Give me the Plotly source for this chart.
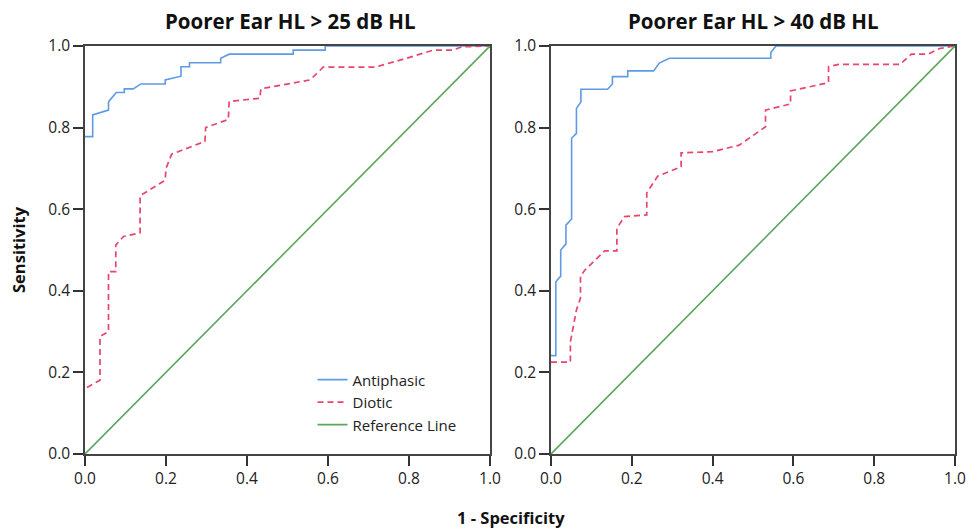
import plotly.graph_objects as go

# ---- data ----
left_anti_fpr = [0, 0.019, 0.019, 0.058, 0.058, 0.077, 0.097, 0.097, 0.119, 0.138, 0.198, 0.198,
                 0.237, 0.237, 0.258, 0.258, 0.335, 0.335, 0.356, 0.514, 0.514, 0.593, 0.593, 1.0]
left_anti_tpr = [0.778, 0.778, 0.831, 0.843, 0.863, 0.886, 0.886, 0.895, 0.895, 0.907, 0.907, 0.917,
                 0.926, 0.949, 0.949, 0.959, 0.959, 0.970, 0.980, 0.980, 0.990, 0.990, 1.0, 1.0]

left_dio_fpr = [0.005, 0.037, 0.037, 0.058, 0.058, 0.076, 0.076, 0.095, 0.136, 0.136, 0.198, 0.200,
                0.214, 0.296, 0.298, 0.354, 0.356, 0.432, 0.434, 0.556, 0.588, 0.716, 0.794, 0.860,
                0.909, 0.930, 1.0]
left_dio_tpr = [0.163, 0.181, 0.288, 0.300, 0.447, 0.447, 0.512, 0.533, 0.542, 0.633, 0.671, 0.700,
                0.735, 0.766, 0.800, 0.820, 0.864, 0.872, 0.895, 0.917, 0.948, 0.948, 0.970, 0.990,
                0.990, 0.998, 1.0]

right_anti_fpr = [0, 0.012, 0.012, 0.024, 0.024, 0.037, 0.037, 0.051, 0.051, 0.063, 0.063, 0.074,
                  0.074, 0.140, 0.152, 0.152, 0.190, 0.190, 0.254, 0.268, 0.293, 0.544, 0.544, 0.557, 1.0]
right_anti_tpr = [0.241, 0.241, 0.422, 0.436, 0.500, 0.515, 0.561, 0.576, 0.774, 0.786, 0.847, 0.863,
                  0.894, 0.894, 0.907, 0.925, 0.925, 0.939, 0.939, 0.958, 0.970, 0.970, 0.984, 1.0, 1.0]

right_dio_fpr = [0, 0.048, 0.048, 0.063, 0.073, 0.073, 0.084, 0.133, 0.163, 0.163, 0.182, 0.237,
                 0.237, 0.264, 0.322, 0.322, 0.400, 0.466, 0.531, 0.531, 0.593, 0.593, 0.687, 0.687,
                 0.712, 0.864, 0.892, 0.933, 0.962, 1.0]
right_dio_tpr = [0.225, 0.225, 0.275, 0.353, 0.382, 0.436, 0.451, 0.498, 0.498, 0.553, 0.582, 0.586,
                 0.640, 0.681, 0.704, 0.738, 0.741, 0.757, 0.802, 0.843, 0.858, 0.890, 0.910, 0.949,
                 0.955, 0.955, 0.980, 0.980, 0.994, 1.0]

ref_x = [0, 1]
ref_y = [0, 1]

titles = ["Poorer Ear HL > 25 dB HL", "Poorer Ear HL > 40 dB HL"]
tick_vals = [0.0, 0.2, 0.4, 0.6, 0.8, 1.0]
tick_text = ["0.0", "0.2", "0.4", "0.6", "0.8", "1.0"]

BLUE = "#5f9be3"
PINK = "#e8456b"
GREEN = "#5ea55e"
FONT = "Open Sans"

fig = go.Figure()

panels = [
    ("x", "y", left_anti_fpr, left_anti_tpr, left_dio_fpr, left_dio_tpr, True),
    ("x2", "y2", right_anti_fpr, right_anti_tpr, right_dio_fpr, right_dio_tpr, False),
]
for xa, ya, ax, ay, dx, dy, show in panels:
    fig.add_trace(go.Scatter(x=ax, y=ay, mode="lines", name="Antiphasic", xaxis=xa, yaxis=ya,
                             line=dict(color=BLUE, width=1.6), showlegend=show))
    fig.add_trace(go.Scatter(x=dx, y=dy, mode="lines", name="Diotic", xaxis=xa, yaxis=ya,
                             line=dict(color=PINK, width=1.7, dash="6px,4px"), showlegend=show))
    fig.add_trace(go.Scatter(x=ref_x, y=ref_y, mode="lines", name="Reference Line", xaxis=xa, yaxis=ya,
                             line=dict(color=GREEN, width=1.6), showlegend=show))

axis_common = dict(range=[0, 1], tickvals=tick_vals, ticktext=tick_text, ticks="outside",
                   ticklen=10, tickwidth=1.5, tickcolor="#333", showline=True, linecolor="#444",
                   linewidth=1.6, mirror=True, showgrid=False, zeroline=False, automargin=False,
                   tickfont=dict(family=FONT, size=15.5, color="#222"))

d1 = 405 / 870
d2 = 466 / 870
fig.update_layout(
    width=970, height=529,
    margin=dict(l=85, r=15, t=46, b=75),
    plot_bgcolor="white", paper_bgcolor="white",
    xaxis=dict(domain=[0, d1], **axis_common),
    yaxis=dict(domain=[0, 1], **axis_common),
    xaxis2=dict(domain=[d2, 1], anchor="y2", **axis_common),
    yaxis2=dict(domain=[0, 1], anchor="x2", **axis_common),
    legend=dict(x=0.2615, y=0.222, xanchor="left", yanchor="top", bgcolor="rgba(0,0,0,0)",
                font=dict(family=FONT, size=15, color="#222"), tracegroupgap=0),
    font=dict(family=FONT),
    hovermode=False,
)

annos = [
    dict(text="<b>%s</b>" % titles[0], x=(290 - 85) / 870, y=1, xref="paper", yref="paper",
         xanchor="center", yanchor="middle", yshift=25,
         showarrow=False, font=dict(family=FONT, size=20.5, color="#111")),
    dict(text="<b>%s</b>" % titles[1], x=(d2 + 1) / 2, y=1, xref="paper", yref="paper",
         xanchor="center", yanchor="middle", yshift=25,
         showarrow=False, font=dict(family=FONT, size=20.5, color="#111")),
    dict(text="<b>Sensitivity</b>", x=0, y=0.5, xref="paper", yref="paper", xshift=-67,
         xanchor="center", yanchor="middle",
         textangle=-90, showarrow=False, font=dict(family=FONT, size=16.5, color="#111")),
    dict(text="<b>1 - Specificity</b>", x=(511 - 85) / 870, y=0, xref="paper", yref="paper",
         xanchor="center", yanchor="middle", yshift=-63,
         showarrow=False, font=dict(family=FONT, size=16.5, color="#111")),
]
fig.update_layout(annotations=annos)

# remove the browser's default 8px body margin so the figure fills the window exactly
fig.write_html("out.html",
               config={"displayModeBar": False},
               post_script="document.body.style.margin='0';document.body.style.overflow='hidden';")
